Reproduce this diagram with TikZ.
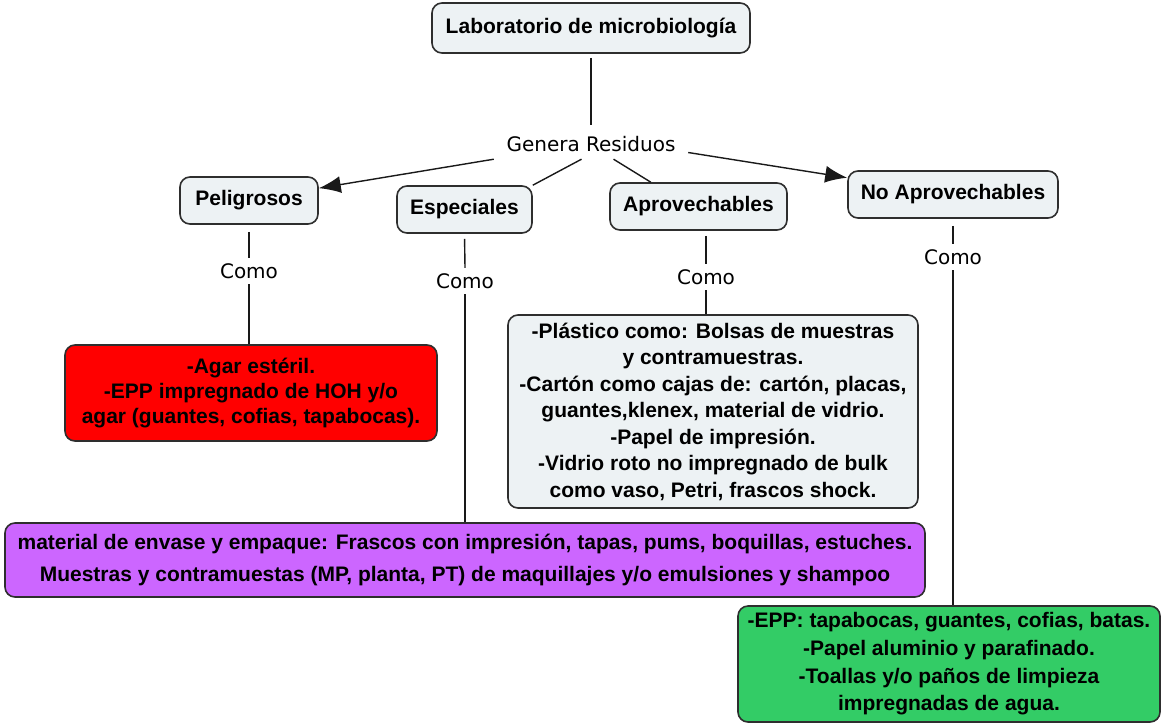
\documentclass[tikz,border=0pt]{standalone}
\usepackage{fontspec}
\setmainfont{Liberation Sans}
\newfontfamily\linkfont{DejaVu Sans}
\usetikzlibrary{arrows.meta,calc}
\definecolor{boxfill}{HTML}{EDF2F4}
\definecolor{boxdraw}{HTML}{2E2E2E}
\definecolor{redfill}{HTML}{FF0000}
\definecolor{purplefill}{HTML}{CC66FF}
\definecolor{greenfill}{HTML}{33CC66}
\begin{document}
\begin{tikzpicture}[x=1pt,y=-1pt,
  concept/.style={draw=boxdraw, line width=1.6pt, rounded corners=10pt, fill=boxfill,
    font=\bfseries\fontsize{21}{25}\selectfont, inner sep=0pt, align=center},
  linkword/.style={font=\linkfont\fontsize{20}{24}\selectfont, inner sep=0pt, minimum height=26pt},
  conn/.style={line width=1.4pt, draw=black!90},
  arr/.style={conn, -{Latex[length=22pt,width=17pt]}},
]
\useasboundingbox (0,0) rectangle (1166,726);
% concepts
\node[concept, minimum width=318pt, minimum height=50pt] (lab) at (591,28) {Laboratorio de microbiología};
\node[linkword, minimum width=194pt, minimum height=30pt] (gen) at (591,144) {Genera Residuos};
\node[concept, minimum width=138pt, minimum height=47pt] (pel) at (249,200.5) {Peligrosos};
\node[concept, minimum width=135pt, minimum height=47pt] (esp) at (464.5,209.5) {Especiales};
\node[concept, minimum width=177pt, minimum height=47pt] (apr) at (698.5,206.5) {Aprovechables};
\node[concept, minimum width=210pt, minimum height=47pt] (noa) at (953,194.5) {No Aprovechables};
% linking words
\node[linkword] (como1) at (249,271) {Como};
\node[linkword] (como2) at (465,281) {Como};
\node[linkword] (como3) at (706,277) {Como};
\node[linkword] (como4) at (953,257) {Como};
% result boxes
\node[concept, fill=redfill, minimum width=372pt, minimum height=96pt] (red) at (251,393)
  {-Agar estéril.\\-EPP impregnado de HOH y/o\\agar (guantes, cofias, tapabocas).};
\node[concept, font=\bfseries\fontsize{21}{26.5}\selectfont, minimum width=410pt, minimum height=193pt] (gray) at (713,411.5)
  {-Plástico como: Bolsas de muestras\\y contramuestras.\\-Cartón como cajas de: cartón, placas,\\guantes,klenex, material de vidrio.\\-Papel de impresión.\\-Vidrio roto no impregnado de bulk\\como vaso, Petri, frascos shock.};
\node[concept, fill=purplefill, font=\bfseries\fontsize{21}{32}\selectfont, minimum width=920pt, minimum height=74pt] (purple) at (465,560)
  {material de envase y empaque: Frascos con impresión, tapas, pums, boquillas, estuches.\\Muestras y contramuestas (MP, planta, PT) de maquillajes y/o emulsiones y shampoo};
\node[concept, fill=greenfill, font=\bfseries\fontsize{21}{27.7}\selectfont, minimum width=422pt, minimum height=116pt] (green) at (949,664)
  {-EPP: tapabocas, guantes, cofias, batas.\\-Papel aluminio y parafinado.\\-Toallas y/o paños de limpieza\\impregnadas de agua.};
% connectors
\draw[conn, shorten <=4pt, shorten >=4pt] (lab.south) -- (gen.north);
\draw[arr] (gen.south west) -- (pel.10);
\draw[conn] (gen.238) -- (esp.north east);
\draw[conn] (gen.326) -- (apr.153);
\draw[arr] (gen.-5) -- (noa.171);
\draw[conn, shorten <=7pt] (pel.south) -- (como1.north);
\draw[conn] (como1.south) -- (red.north -| como1.south);
\draw[conn, shorten <=5pt] (esp.south) -- (como2.north);
\draw[conn] (como2.south) -- (purple.north -| como2.south);
\draw[conn, shorten <=5pt] (apr.south -| como3.north) -- (como3.north);
\draw[conn] (como3.south) -- (gray.north -| como3.south);
\draw[conn, shorten <=7pt] (noa.south) -- (como4.north);
\draw[conn] (como4.south) -- (green.north -| como4.south);
\end{tikzpicture}
\end{document}
